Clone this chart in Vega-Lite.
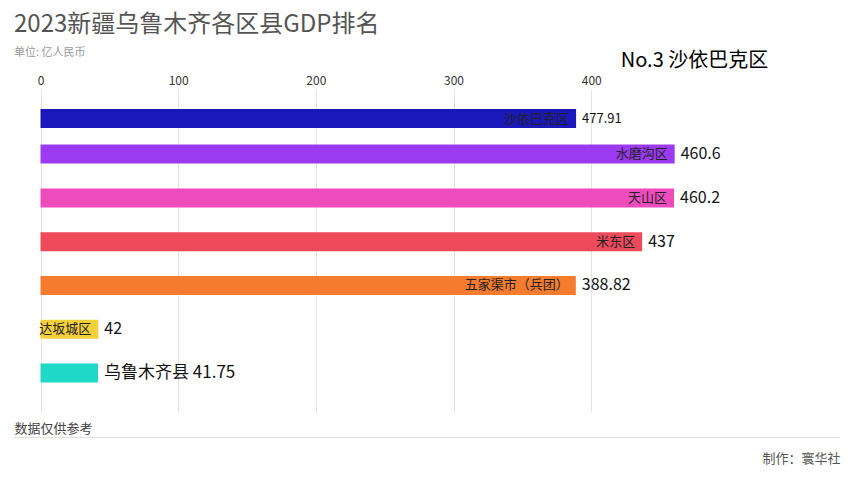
{
  "$schema": "https://vega.github.io/schema/vega-lite/v6.json",
  "width": 826,
  "height": 323,
  "autosize": {"type": "none"},
  "padding": {"left": 14, "right": 12, "top": 89, "bottom": 68},
  "background": "white",
  "config": {
    "view": {"stroke": null},
    "font": "Noto Sans CJK SC"
  },
  "title": {
    "text": "2023新疆乌鲁木齐各区县GDP排名",
    "subtitle": "单位: 亿人民币",
    "anchor": "start",
    "frame": "group",
    "fontSize": 24,
    "fontWeight": "normal",
    "color": "#555555",
    "subtitleFontSize": 11,
    "subtitleColor": "#999999",
    "subtitlePadding": 10,
    "offset": -8
  },
  "data": {
    "values": [
      {"name": "沙依巴克区", "rank": 1.19, "value": 477.91, "len": 389, "inner": "沙依巴克区", "outer": "477.91"},
      {"name": "水磨沟区", "rank": 2, "value": 460.6, "len": 460.6, "inner": "水磨沟区", "outer": "460.6"},
      {"name": "天山区", "rank": 3, "value": 460.2, "len": 460.2, "inner": "天山区", "outer": "460.2"},
      {"name": "米东区", "rank": 4, "value": 437, "len": 437, "inner": "米东区", "outer": "437"},
      {"name": "五家渠市（兵团）", "rank": 5, "value": 388.82, "len": 388.82, "inner": "五家渠市（兵团）", "outer": "388.82"},
      {"name": "达坂城区", "rank": 6, "value": 42, "len": 42, "inner": "达坂城区", "outer": "42"},
      {"name": "乌鲁木齐县", "rank": 7, "value": 41.75, "len": 41.75, "inner": "", "outer": "乌鲁木齐县 41.75"}
    ]
  },
  "encoding": {
    "y": {
      "field": "rank",
      "type": "quantitative",
      "scale": {"domain": [0.628, 7.774], "reverse": true, "nice": false, "zero": false},
      "axis": null
    }
  },
  "layer": [
    {
      "mark": {"type": "bar", "orient": "horizontal", "size": 19},
      "encoding": {
        "x": {
          "field": "len",
          "type": "quantitative",
          "scale": {"domain": [-19.25, 580.7], "nice": false, "zero": false},
          "axis": {
            "orient": "top",
            "values": [0, 100, 200, 300, 400],
            "grid": true,
            "gridColor": "#e3e3e3",
            "domain": false,
            "ticks": false,
            "labelPadding": 2,
            "labelFontSize": 12,
            "labelColor": "#333333",
            "labelFlush": false,
            "title": "No.3 沙依巴克区",
            "titleX": 680,
            "titleY": -29,
            "titleAlign": "center",
            "titleBaseline": "middle",
            "titleFontSize": 20,
            "titleFontWeight": "normal",
            "titleColor": "#000000"
          }
        },
        "color": {
          "field": "name",
          "type": "nominal",
          "legend": null,
          "scale": {
            "domain": ["沙依巴克区", "水磨沟区", "天山区", "米东区", "五家渠市（兵团）", "达坂城区", "乌鲁木齐县"],
            "range": ["#1a18b8", "#9b3af0", "#ee4bbd", "#ee4a5c", "#f57b2e", "#f7cf3b", "#1fd8c8"]
          }
        }
      }
    },
    {
      "mark": {"type": "text", "align": "right", "baseline": "middle", "dx": -7, "fontSize": 13, "color": "#222222"},
      "encoding": {
        "x": {
          "field": "len",
          "type": "quantitative",
          "axis": {
            "orient": "bottom",
            "offset": 25,
            "grid": false,
            "domain": true,
            "domainColor": "#e0e0e0",
            "ticks": false,
            "labels": false,
            "title": "数据仅供参考",
            "titleX": 0,
            "titleY": -9,
            "titleAlign": "left",
            "titleBaseline": "middle",
            "titleFontSize": 13,
            "titleFontWeight": "normal",
            "titleColor": "#444444"
          }
        },
        "text": {"field": "inner"}
      }
    },
    {
      "mark": {"type": "text", "align": "left", "baseline": "middle", "dx": 6, "color": "#111111"},
      "encoding": {
        "x": {
          "field": "len",
          "type": "quantitative",
          "axis": {
            "orient": "bottom",
            "offset": 25,
            "grid": false,
            "domain": false,
            "ticks": false,
            "labels": false,
            "title": "制作：寰华社",
            "titleX": 826,
            "titleY": 21.5,
            "titleAlign": "right",
            "titleBaseline": "middle",
            "titleFontSize": 13,
            "titleFontWeight": "normal",
            "titleColor": "#555555"
          }
        },
        "text": {"field": "outer"},
        "size": {
          "condition": [
            {"test": "datum.name === '沙依巴克区'", "value": 13},
            {"test": "datum.name === '乌鲁木齐县'", "value": 17}
          ],
          "value": 16
        }
      }
    }
  ],
  "resolve": {"axis": {"x": "independent"}}
}
